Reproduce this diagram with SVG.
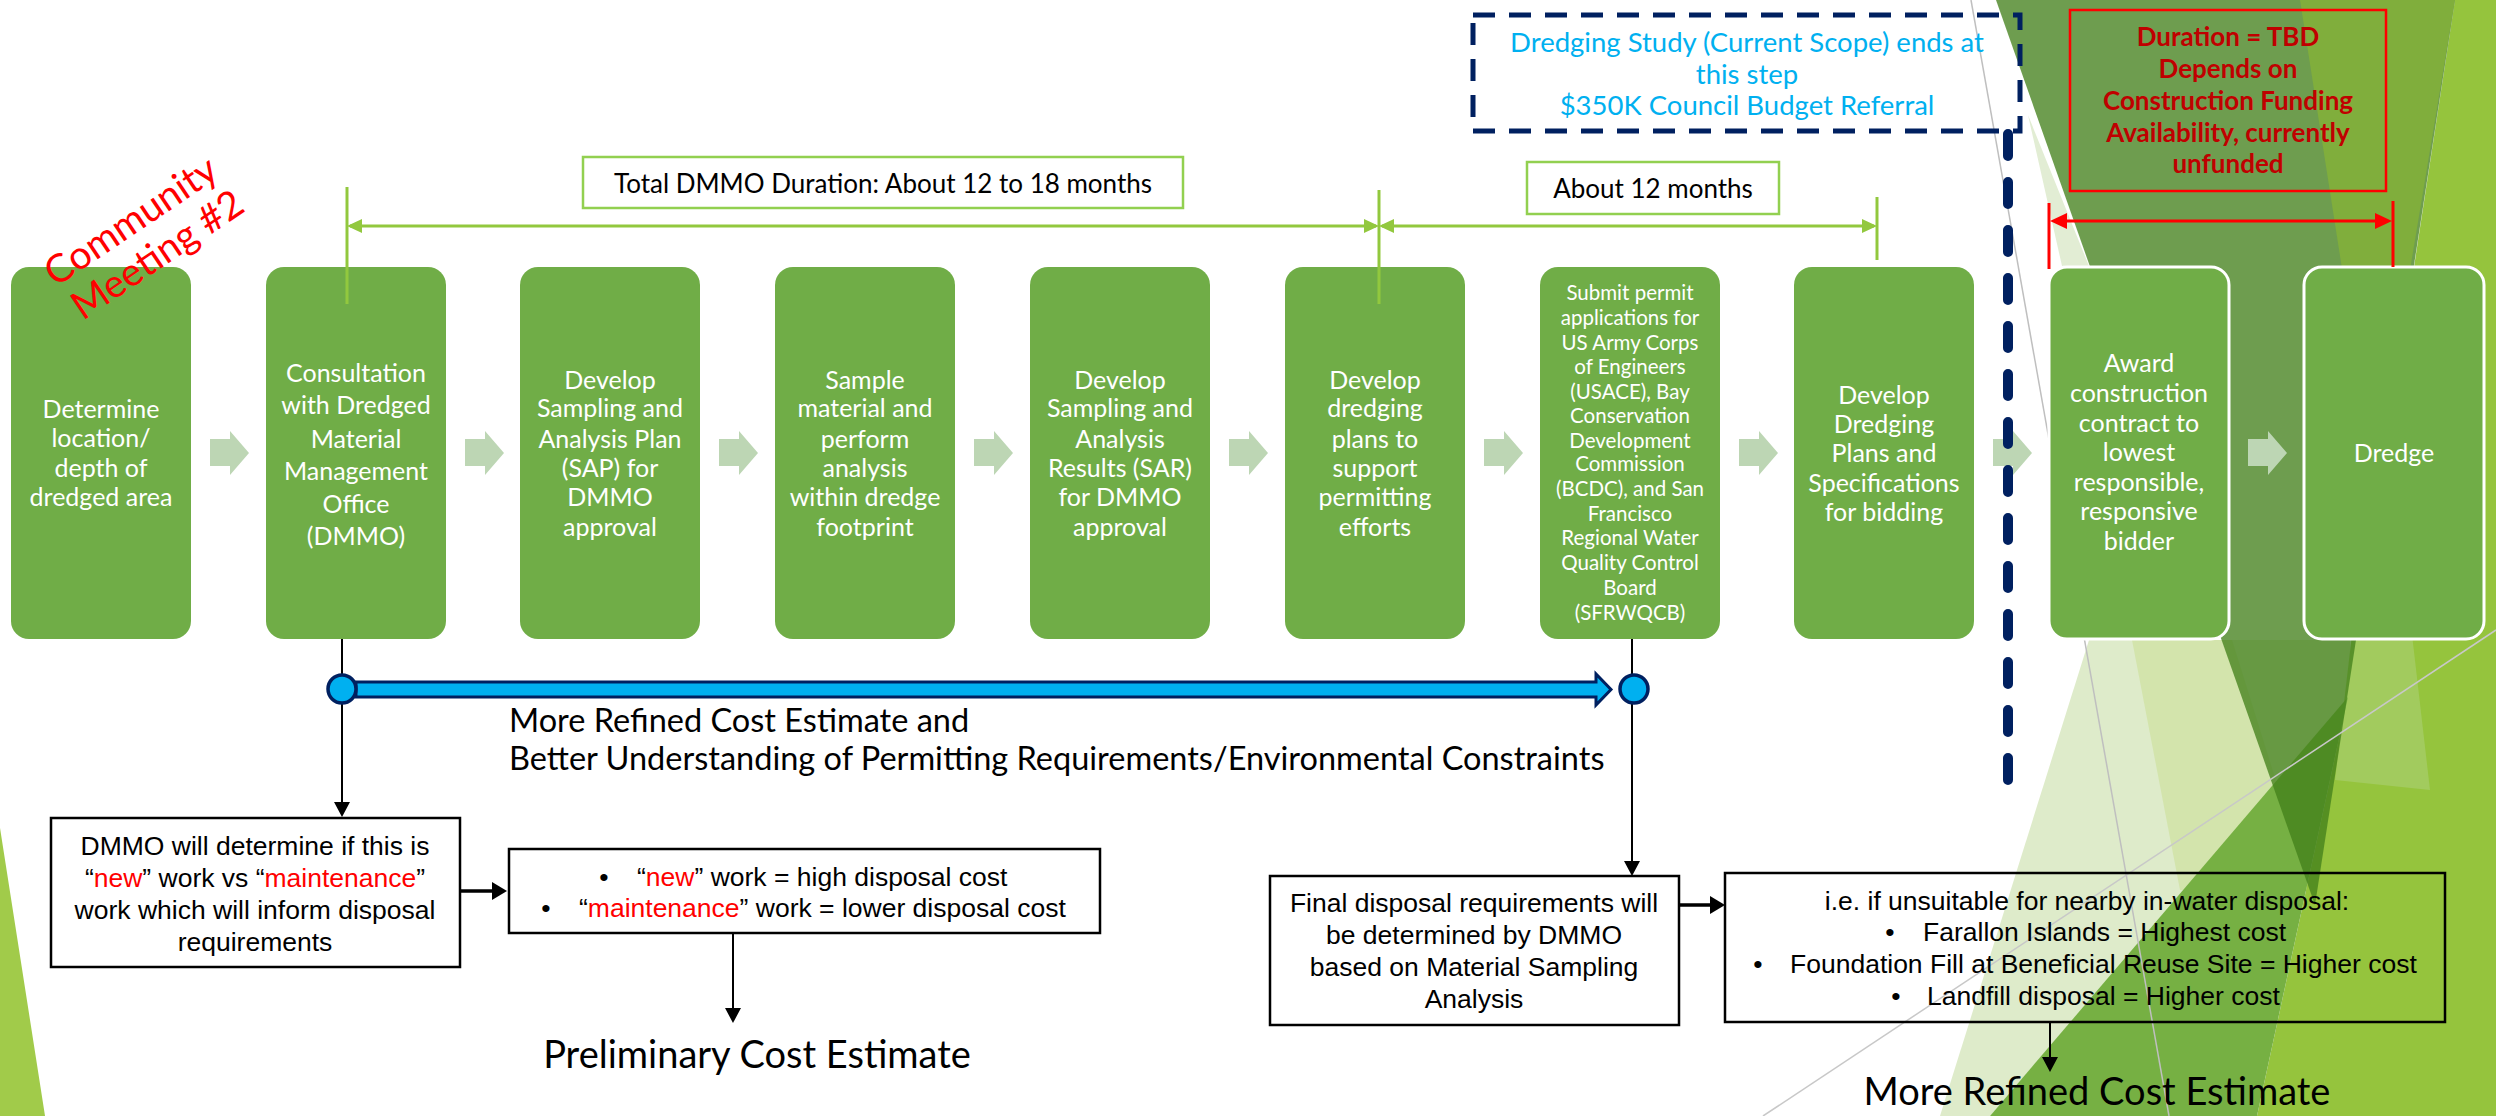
<svg xmlns="http://www.w3.org/2000/svg" width="2496" height="1116" viewBox="0 0 2496 1116">
<defs>
<style>
.box{fill:#70AD47}
.boxw{fill:#70AD47;stroke:#FFFFFF;stroke-width:3}
.bt{font-family:Lato,"Open Sans",sans-serif;font-size:25px;fill:#FFFFFF;text-anchor:middle}
.bt7{font-family:Lato,"Open Sans",sans-serif;font-size:20.5px;fill:#FFFFFF;text-anchor:middle}
.step{fill:#BDD6B4}
.dim{stroke:#92C83E;stroke-width:3;fill:none}
.dimh{fill:#92C83E}
.lbl{fill:#FFFFFF;stroke:#92D050;stroke-width:2.5}
.lt{font-family:Lato,"Open Sans",sans-serif;font-size:26px;fill:#000000;text-anchor:middle}
.ar{font-family:"Liberation Sans",Arial,sans-serif;font-size:26.5px;fill:#000000}
.red{fill:#FF0000}
.blk{stroke:#000000;stroke-width:2;fill:none}
.blk3{stroke:#000000;stroke-width:3.5;fill:none}
.bbox{fill:#FFFFFF;stroke:#000000;stroke-width:2.5}
.obox{fill:none;stroke:#000000;stroke-width:2.5}
.big{font-family:Lato,"Open Sans",sans-serif;fill:#000000}
</style>
<filter id="sh" x="-50%" y="-5%" width="200%" height="110%">
<feGaussianBlur stdDeviation="2.5"/>
</filter>
</defs>

<!-- background decorations -->
<g id="decor">
<polygon points="0,828 45,1116 0,1116" fill="#A1CB4A"/>
<polygon points="2089,640 2350,640 2350,700 1990,1116 1940,1116" fill="#DEEBCA"/>
<polygon points="2132,640 2232,640 2310,890 2180,890" fill="#D3E4AC"/>
<polygon points="2455,0 2496,0 2496,1116 2257,1116 2348,697" fill="#95C43D"/>
<polygon points="2356,600 2408,600 2430,790 2335,780" fill="#A2CB5E"/>
<polygon points="1990,1116 2348,697 2257,1116" fill="#76B043"/>
<polygon points="1996,0 2455,0 2315,905" fill="#43801A" fill-opacity="0.77"/>
<polygon points="2300,0 2455,0 2375,480" fill="#80AE3C"/>
<polygon points="2028,115 2089,266 2062,266" fill="#E2EDD4"/>
<line x1="1971" y1="0" x2="2169" y2="1116" stroke="#BFBFBF" stroke-width="1.5"/>
<line x1="1763" y1="1116" x2="2496" y2="630" stroke="#C8C8C8" stroke-width="1.5"/>
</g>

<!-- connectors -->
<g id="connectors">
<g class="step">
<polygon points="210,439 230,439 230,431 249,453 230,475 230,466 210,466"/>
<polygon points="465,439 485,439 485,431 504,453 485,475 485,466 465,466"/>
<polygon points="719,439 739,439 739,431 758,453 739,475 739,466 719,466"/>
<polygon points="974,439 994,439 994,431 1013,453 994,475 994,466 974,466"/>
<polygon points="1229,439 1249,439 1249,431 1268,453 1249,475 1249,466 1229,466"/>
<polygon points="1484,439 1504,439 1504,431 1523,453 1504,475 1504,466 1484,466"/>
<polygon points="1739,439 1759,439 1759,431 1778,453 1759,475 1759,466 1739,466"/>
<polygon points="1993,439 2013,439 2013,431 2032,453 2013,475 2013,466 1993,466"/>
<polygon points="2248,439 2268,439 2268,431 2287,453 2268,475 2268,466 2248,466"/>
</g>
<path class="blk" d="M342,635 V803"/>
<polygon points="334,802 350,802 342,817"/>
<path class="blk" d="M1632,632 V862"/>
<polygon points="1624,861 1640,861 1632,876"/>
<path class="blk3" d="M460,891 H494"/>
<polygon points="492,882 507,891 492,900"/>
<path class="blk3" d="M1679,905 H1712"/>
<polygon points="1710,896 1725,905 1710,914"/>
<path class="blk" d="M733,933 V1009"/>
<polygon points="725,1008 741,1008 733,1023"/>
<path class="blk" d="M2050,1022 V1058"/>
<polygon points="2042,1057 2058,1057 2050,1072"/>
<polygon points="356,682 1596,682 1596,674 1611,689.5 1596,705 1596,697 356,697" fill="#00B0F0" stroke="#002060" stroke-width="3" stroke-linejoin="miter"/>
<circle cx="342" cy="689" r="14" fill="#00B0F0" stroke="#002060" stroke-width="3.5"/>
<circle cx="1634" cy="689" r="14" fill="#00B0F0" stroke="#002060" stroke-width="3.5"/>
</g>

<!-- process steps -->
<g id="step1"><rect class="box" x="11" y="267" width="180" height="372" rx="18"/>
<text class="bt"><tspan x="101" y="418">Determine</tspan><tspan x="101" y="447">location/</tspan><tspan x="101" y="477">depth of</tspan><tspan x="101" y="506">dredged area</tspan></text></g>
<g id="step2"><rect class="box" x="266" y="267" width="180" height="372" rx="18"/>
<text class="bt"><tspan x="356" y="382">Consultation</tspan><tspan x="356" y="414">with Dredged</tspan><tspan x="356" y="448">Material</tspan><tspan x="356" y="480">Management</tspan><tspan x="356" y="513">Office</tspan><tspan x="356" y="545">(DMMO)</tspan></text></g>
<g id="step3"><rect class="box" x="520" y="267" width="180" height="372" rx="18"/>
<text class="bt"><tspan x="610" y="389">Develop</tspan><tspan x="610" y="417">Sampling and</tspan><tspan x="610" y="448">Analysis Plan</tspan><tspan x="610" y="477">(SAP) for</tspan><tspan x="610" y="506">DMMO</tspan><tspan x="610" y="536">approval</tspan></text></g>
<g id="step4"><rect class="box" x="775" y="267" width="180" height="372" rx="18"/>
<text class="bt"><tspan x="865" y="389">Sample</tspan><tspan x="865" y="417">material and</tspan><tspan x="865" y="448">perform</tspan><tspan x="865" y="477">analysis</tspan><tspan x="865" y="506">within dredge</tspan><tspan x="865" y="536">footprint</tspan></text></g>
<g id="step5"><rect class="box" x="1030" y="267" width="180" height="372" rx="18"/>
<text class="bt"><tspan x="1120" y="389">Develop</tspan><tspan x="1120" y="417">Sampling and</tspan><tspan x="1120" y="448">Analysis</tspan><tspan x="1120" y="477">Results (SAR)</tspan><tspan x="1120" y="506">for DMMO</tspan><tspan x="1120" y="536">approval</tspan></text></g>
<g id="step6"><rect class="box" x="1285" y="267" width="180" height="372" rx="18"/>
<text class="bt"><tspan x="1375" y="389">Develop</tspan><tspan x="1375" y="417">dredging</tspan><tspan x="1375" y="448">plans to</tspan><tspan x="1375" y="477">support</tspan><tspan x="1375" y="506">permitting</tspan><tspan x="1375" y="536">efforts</tspan></text></g>
<g id="step7"><rect class="box" x="1540" y="267" width="180" height="372" rx="18"/>
<text class="bt7"><tspan x="1630" y="300">Submit permit</tspan><tspan x="1630" y="325">applications for</tspan><tspan x="1630" y="350">US Army Corps</tspan><tspan x="1630" y="374">of Engineers</tspan><tspan x="1630" y="399">(USACE), Bay</tspan><tspan x="1630" y="423">Conservation</tspan><tspan x="1630" y="448">Development</tspan><tspan x="1630" y="471">Commission</tspan><tspan x="1630" y="496">(BCDC), and San</tspan><tspan x="1630" y="521">Francisco</tspan><tspan x="1630" y="545">Regional Water</tspan><tspan x="1630" y="570">Quality Control</tspan><tspan x="1630" y="595">Board</tspan><tspan x="1630" y="620">(SFRWQCB)</tspan></text></g>
<g id="step8"><rect class="box" x="1794" y="267" width="180" height="372" rx="18"/>
<text class="bt"><tspan x="1884" y="404">Develop</tspan><tspan x="1884" y="433">Dredging</tspan><tspan x="1884" y="462">Plans and</tspan><tspan x="1884" y="492">Specifications</tspan><tspan x="1884" y="521">for bidding</tspan></text></g>
<g id="step9"><rect class="boxw" x="2049" y="267" width="180" height="372" rx="18"/>
<text class="bt"><tspan x="2139" y="372">Award</tspan><tspan x="2139" y="402">construction</tspan><tspan x="2139" y="432">contract to</tspan><tspan x="2139" y="461">lowest</tspan><tspan x="2139" y="491">responsible,</tspan><tspan x="2139" y="520">responsive</tspan><tspan x="2139" y="550">bidder</tspan></text></g>
<g id="step10"><rect class="boxw" x="2304" y="267" width="180" height="372" rx="18"/>
<text class="bt"><tspan x="2394" y="462">Dredge</tspan></text></g>

<!-- duration dimensions -->
<g id="dmmo-duration">
<line class="dim" x1="347" y1="187" x2="347" y2="304"/>
<line class="dim" x1="1379" y1="190" x2="1379" y2="304"/>
<line class="dim" x1="1877" y1="197" x2="1877" y2="260"/>
<line class="dim" x1="350" y1="226" x2="1376" y2="226"/>
<line class="dim" x1="1382" y1="226" x2="1874" y2="226"/>
<polygon class="dimh" points="347,226 362,219 362,233"/>
<polygon class="dimh" points="1379,226 1364,219 1364,233"/>
<polygon class="dimh" points="1379,226 1394,219 1394,233"/>
<polygon class="dimh" points="1877,226 1862,219 1862,233"/>
<rect class="lbl" x="583" y="157" width="600" height="51"/>
<text class="lt" x="883" y="193">Total DMMO Duration: About 12 to 18 months</text>
</g>
<g id="permit-duration">
<rect class="lbl" x="1527" y="162" width="252" height="52"/>
<text class="lt" x="1653" y="198">About 12 months</text>
</g>

<!-- current scope marker -->
<g id="scope-end">
<line x1="2005" y1="134" x2="2005" y2="782" stroke="#808080" stroke-width="11" stroke-dasharray="22 26" stroke-linecap="round" filter="url(#sh)" opacity="0.6"/>
<rect x="1473" y="15" width="547" height="116" fill="none" stroke="#002060" stroke-width="5" stroke-dasharray="22 14"/>
<line x1="2008" y1="134" x2="2008" y2="780" stroke="#002060" stroke-width="10" stroke-dasharray="22 26" stroke-linecap="round"/>
<text font-family="Lato,'Open Sans',sans-serif" font-size="27.5" fill="#00B0F0" text-anchor="middle"><tspan x="1747" y="52">Dredging Study (Current Scope) ends at</tspan><tspan x="1747" y="84">this step</tspan><tspan x="1747" y="115">$350K Council Budget Referral</tspan></text>
</g>

<g id="construction-duration">
<rect x="2070" y="10" width="316" height="181" fill="none" stroke="#FF0000" stroke-width="2.5"/>
<text font-family="Lato,'Open Sans',sans-serif" font-size="26" font-weight="bold" fill="#C00000" text-anchor="middle"><tspan x="2228" y="46">Duration = TBD</tspan><tspan x="2228" y="78">Depends on</tspan><tspan x="2228" y="110">Construction Funding</tspan><tspan x="2228" y="142">Availability, currently</tspan><tspan x="2228" y="173">unfunded</tspan></text>
<line x1="2049" y1="203" x2="2049" y2="269" stroke="#FF0000" stroke-width="3"/>
<line x1="2393" y1="201" x2="2393" y2="267" stroke="#FF0000" stroke-width="3"/>
<line x1="2060" y1="221" x2="2382" y2="221" stroke="#FF0000" stroke-width="3"/>
<polygon points="2050,221 2067,213 2067,229" fill="#FF0000"/>
<polygon points="2392,221 2375,213 2375,229" fill="#FF0000"/>
</g>

<g id="community-meeting" transform="translate(131,221) rotate(-34)">
<text font-family="Lato,'Open Sans',sans-serif" font-size="39" fill="#FF0000" text-anchor="middle"><tspan x="0" y="13">Community</tspan><tspan x="3" y="56">Meeting #2</tspan></text>
</g>

<g id="refined-label">
<text class="big" font-size="32.5"><tspan x="509" y="732">More Refined Cost Estimate and</tspan><tspan x="509" y="770">Better Understanding of Permitting Requirements/Environmental Constraints</tspan></text>
</g>

<g id="dmmo-determine">
<rect class="bbox" x="51" y="818" width="409" height="149"/>
<text class="ar" text-anchor="middle"><tspan x="255" y="855">DMMO will determine if this is</tspan><tspan x="255" y="887">“<tspan class="red">new</tspan>” work vs “<tspan class="red">maintenance</tspan>”</tspan><tspan x="255" y="919">work which will inform disposal</tspan><tspan x="255" y="951">requirements</tspan></text>
</g>

<g id="disposal-cost">
<rect class="bbox" x="509" y="849" width="591" height="84"/>
<text class="ar" x="604" y="886" text-anchor="middle">•</text>
<text class="ar" x="637" y="886">“<tspan class="red">new</tspan>” work = high disposal cost</text>
<text class="ar" x="546" y="917" text-anchor="middle">•</text>
<text class="ar" x="579" y="917">“<tspan class="red">maintenance</tspan>” work = lower disposal cost</text>
</g>

<g id="preliminary"><text class="big" font-size="38" x="757" y="1068" text-anchor="middle">Preliminary Cost Estimate</text></g>

<g id="final-disposal">
<rect class="bbox" x="1270" y="876" width="409" height="149"/>
<text class="ar" text-anchor="middle"><tspan x="1474" y="912">Final disposal requirements will</tspan><tspan x="1474" y="944">be determined by DMMO</tspan><tspan x="1474" y="976">based on Material Sampling</tspan><tspan x="1474" y="1008">Analysis</tspan></text>
</g>

<g id="disposal-options">
<rect class="obox" x="1725" y="873" width="720" height="149"/>
<text class="ar" x="2087" y="910" text-anchor="middle">i.e. if unsuitable for nearby in-water disposal:</text>
<text class="ar" x="1890" y="941" text-anchor="middle">•</text>
<text class="ar" x="1923" y="941">Farallon Islands = Highest cost</text>
<text class="ar" x="1758" y="973" text-anchor="middle">•</text>
<text class="ar" x="1790" y="973">Foundation Fill at Beneficial Reuse Site = Higher cost</text>
<text class="ar" x="1896" y="1005" text-anchor="middle">•</text>
<text class="ar" x="1927" y="1005">Landfill disposal = Higher cost</text>
</g>

<g id="refined"><text class="big" font-size="38" x="2097" y="1105" text-anchor="middle">More Refined Cost Estimate</text></g>
</svg>
